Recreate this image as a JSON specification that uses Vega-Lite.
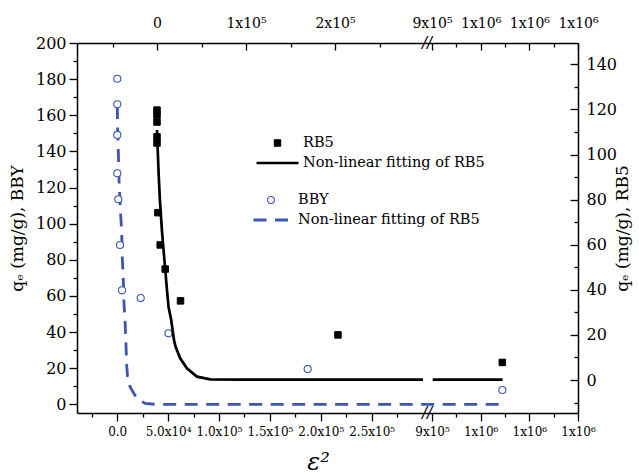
{
  "$schema": "https://vega.github.io/schema/vega-lite/v6.json",
  "width": 501,
  "height": 370,
  "autosize": {"type": "none"},
  "padding": {"left": 77, "top": 43, "right": 61, "bottom": 62},
  "background": "white",
  "config": {"view": {"stroke": null}, "font": "DejaVu Serif"},
  "datasets": {
    "rb5": [
      {"eps2": 0, "qe": 119.7, "series": "RB5"},
      {"eps2": 0, "qe": 117.5, "series": "RB5"},
      {"eps2": 0, "qe": 114.4, "series": "RB5"},
      {"eps2": 0, "qe": 107.8, "series": "RB5"},
      {"eps2": 0, "qe": 105.1, "series": "RB5"},
      {"eps2": 1010, "qe": 74.2, "series": "RB5"},
      {"eps2": 3600, "qe": 59.9, "series": "RB5"},
      {"eps2": 9210, "qe": 49.2, "series": "RB5"},
      {"eps2": 26400, "qe": 35.1, "series": "RB5"},
      {"eps2": 203300, "qe": 20.0, "series": "RB5"},
      {"eps2": 1044500, "qe": 7.8, "series": "RB5"}
    ],
    "rb5fit": [
      {"eps2": 0, "qe": 110.9, "series": "fitRB5", "seg": "a"},
      {"eps2": 790, "qe": 102.0, "series": "fitRB5", "seg": "a"},
      {"eps2": 1910, "qe": 90.9, "series": "fitRB5", "seg": "a"},
      {"eps2": 3260, "qe": 79.8, "series": "fitRB5", "seg": "a"},
      {"eps2": 5510, "qe": 66.5, "series": "fitRB5", "seg": "a"},
      {"eps2": 6850, "qe": 59.9, "series": "fitRB5", "seg": "a"},
      {"eps2": 9210, "qe": 49.2, "series": "fitRB5", "seg": "a"},
      {"eps2": 11240, "qe": 39.9, "series": "fitRB5", "seg": "a"},
      {"eps2": 12920, "qe": 32.5, "series": "fitRB5", "seg": "a"},
      {"eps2": 15960, "qe": 26.6, "series": "fitRB5", "seg": "a"},
      {"eps2": 19100, "qe": 17.7, "series": "fitRB5", "seg": "a"},
      {"eps2": 21010, "qe": 14.6, "series": "fitRB5", "seg": "a"},
      {"eps2": 26070, "qe": 9.6, "series": "fitRB5", "seg": "a"},
      {"eps2": 33600, "qe": 5.2, "series": "fitRB5", "seg": "a"},
      {"eps2": 44830, "qe": 1.5, "series": "fitRB5", "seg": "a"},
      {"eps2": 59780, "qe": 0.3, "series": "fitRB5", "seg": "a"},
      {"eps2": 93480, "qe": 0.2, "series": "fitRB5", "seg": "a"},
      {"eps2": 298800, "qe": 0.2, "series": "fitRB5", "seg": "a"},
      {"eps2": 901400, "qe": 0.2, "series": "fitRB5", "seg": "b"},
      {"eps2": 1045000, "qe": 0.2, "series": "fitRB5", "seg": "b"}
    ],
    "bby": [
      {"eps2": 100, "qe": 180.2, "series": "BBY"},
      {"eps2": 100, "qe": 166.1, "series": "BBY"},
      {"eps2": 100, "qe": 149.1, "series": "BBY"},
      {"eps2": 100, "qe": 127.9, "series": "BBY"},
      {"eps2": 1080, "qe": 113.5, "series": "BBY"},
      {"eps2": 2750, "qe": 88.2, "series": "BBY"},
      {"eps2": 4720, "qe": 63.1, "series": "BBY"},
      {"eps2": 23080, "qe": 58.8, "series": "BBY"},
      {"eps2": 50390, "qe": 39.3, "series": "BBY"},
      {"eps2": 187100, "qe": 19.5, "series": "BBY"},
      {"eps2": 1044500, "qe": 7.9, "series": "BBY"}
    ],
    "bbyfit": [
      {"eps2": 100, "qe": 165.1, "series": "fitBBY"},
      {"eps2": 490, "qe": 151.8, "series": "fitBBY"},
      {"eps2": 1080, "qe": 140.8, "series": "fitBBY"},
      {"eps2": 1960, "qe": 121.4, "series": "fitBBY"},
      {"eps2": 3240, "qe": 106.4, "series": "fitBBY"},
      {"eps2": 4420, "qe": 95.4, "series": "fitBBY"},
      {"eps2": 5010, "qe": 81.0, "series": "fitBBY"},
      {"eps2": 5990, "qe": 68.8, "series": "fitBBY"},
      {"eps2": 6480, "qe": 57.7, "series": "fitBBY"},
      {"eps2": 7660, "qe": 46.7, "series": "fitBBY"},
      {"eps2": 8640, "qe": 32.8, "series": "fitBBY"},
      {"eps2": 9330, "qe": 21.8, "series": "fitBBY"},
      {"eps2": 10120, "qe": 15.3, "series": "fitBBY"},
      {"eps2": 12570, "qe": 9.7, "series": "fitBBY"},
      {"eps2": 19150, "qe": 3.3, "series": "fitBBY"},
      {"eps2": 27310, "qe": 0.55, "series": "fitBBY"},
      {"eps2": 37130, "qe": 0, "series": "fitBBY"},
      {"eps2": 1045000, "qe": 0, "series": "fitBBY"}
    ]
  },
  "resolve": {"scale": {"x": "independent", "y": "independent", "stroke": "independent", "strokeWidth": "independent", "fill": "independent", "shape": "independent", "size": "independent", "strokeDash": "independent"}},
  "layer": [
    {
      "encoding": {
        "x": {"field": "eps2", "type": "quantitative",
          "scale": {"type": "linear", "domain": [-39490, 304320, 889700, 1200000], "range": [0, 350, 350, 501], "nice": false, "zero": false},
          "axis": {"orient": "bottom", "values": [0, 50000, 100000, 150000, 200000, 250000, 900000, 1000000, 1100000, 1200000],
            "labelExpr": "datum.value == 0 ? '0.0' : datum.value < 100000 ? format(datum.value/10000,'.1f') + 'x10⁴' : datum.value < 500000 ? format(datum.value/100000,'.1f') + 'x10⁵' : datum.value < 950000 ? '9x10⁵' : '1x10⁶'",
            "ticks": false, "grid": false, "domain": true, "domainColor": "black", "domainWidth": 1.5,
            "labelFont": "DejaVu Serif", "labelFontSize": 12, "labelColor": "black", "labelPadding": 13,
            "labelFlush": false, "labelOverlap": false, "labelBound": false,
            "title": "ε²", "titleFont": "DejaVu Serif", "titleFontSize": 24, "titleFontStyle": "italic", "titleFontWeight": "normal", "titleColor": "black",
            "titleX": 241, "titleY": 56, "titleBaseline": "alphabetic", "titleAlign": "center", "titleAngle": 0}},
        "y": {"field": "qe", "type": "quantitative",
          "scale": {"domain": [-4.82, 200], "nice": false, "zero": false},
          "axis": {"orient": "left", "values": [0, 20, 40, 60, 80, 100, 120, 140, 160, 180, 200],
            "ticks": false, "grid": false, "domain": true, "domainColor": "black", "domainWidth": 1.5,
            "labelFont": "DejaVu Serif", "labelFontSize": 16, "labelColor": "black", "labelPadding": 11,
            "labelOverlap": false, "labelBound": false, "labelFlush": false,
            "title": "qₑ (mg/g), BBY", "titleFont": "DejaVu Serif", "titleFontSize": 17, "titleFontWeight": "normal", "titleColor": "black",
            "titleAngle": 270, "titleX": -55, "titleY": 185, "titleBaseline": "alphabetic", "titleAlign": "center"}},
        "stroke": {"field": "series", "type": "nominal", "scale": {"domain": ["BBY", "fitBBY"], "range": ["#3b56b3", "#3b56b3"]},
          "legend": {"orient": "none", "legendX": 175, "legendY": 147, "title": null, "columns": 1, "clipHeight": 20, "rowPadding": 0, "padding": 0,
            "labelFont": "DejaVu Serif", "labelFontSize": 14.5, "labelColor": "black", "labelOffset": 8, "labelLimit": 400,
            "labelExpr": "datum.label == 'BBY' ? 'BBY' : 'Non-linear fitting of RB5'"}},
        "strokeWidth": {"field": "series", "type": "nominal", "scale": {"domain": ["BBY", "fitBBY"], "range": [1.1, 2.8]},
          "legend": {"orient": "none", "legendX": 175, "legendY": 147, "title": null, "columns": 1, "clipHeight": 20, "rowPadding": 0, "padding": 0,
            "labelFont": "DejaVu Serif", "labelFontSize": 14.5, "labelColor": "black", "labelOffset": 8, "labelLimit": 400,
            "labelExpr": "datum.label == 'BBY' ? 'BBY' : 'Non-linear fitting of RB5'"}}
      },
      "layer": [
        {
          "data": {"name": "bbyfit"},
          "mark": {"type": "line", "strokeCap": "butt"},
          "encoding": {
            "strokeDash": {"field": "series", "type": "nominal", "scale": {"domain": ["BBY", "fitBBY"], "range": [[1, 0], [13, 8.5]]},
              "legend": {"orient": "none", "legendX": 175, "legendY": 147, "title": null, "columns": 1, "clipHeight": 20, "rowPadding": 0, "padding": 0,
                "labelFont": "DejaVu Serif", "labelFontSize": 14.5, "labelColor": "black", "labelOffset": 8, "labelLimit": 400,
                "labelExpr": "datum.label == 'BBY' ? 'BBY' : 'Non-linear fitting of RB5'"}}
          }
        },
        {
          "data": {"name": "bby"},
          "mark": {"type": "point", "opacity": 1},
          "encoding": {
            "shape": {"field": "series", "type": "nominal", "scale": {"domain": ["BBY", "fitBBY"], "range": ["circle", "stroke"]},
              "legend": {"orient": "none", "legendX": 175, "legendY": 147, "title": null, "columns": 1, "clipHeight": 20, "rowPadding": 0, "padding": 0,
                "labelFont": "DejaVu Serif", "labelFontSize": 14.5, "labelColor": "black", "labelOffset": 8, "labelLimit": 400,
                "labelExpr": "datum.label == 'BBY' ? 'BBY' : 'Non-linear fitting of RB5'"}},
            "fill": {"field": "series", "type": "nominal", "scale": {"domain": ["BBY", "fitBBY"], "range": ["white", "transparent"]},
              "legend": {"orient": "none", "legendX": 175, "legendY": 147, "title": null, "columns": 1, "clipHeight": 20, "rowPadding": 0, "padding": 0,
                "labelFont": "DejaVu Serif", "labelFontSize": 14.5, "labelColor": "black", "labelOffset": 8, "labelLimit": 400,
                "labelExpr": "datum.label == 'BBY' ? 'BBY' : 'Non-linear fitting of RB5'"}},
            "size": {"field": "series", "type": "nominal", "scale": {"domain": ["BBY", "fitBBY"], "range": [50, 1225]},
              "legend": {"orient": "none", "legendX": 175, "legendY": 147, "title": null, "columns": 1, "clipHeight": 20, "rowPadding": 0, "padding": 0,
                "labelFont": "DejaVu Serif", "labelFontSize": 14.5, "labelColor": "black", "labelOffset": 8, "labelLimit": 400,
                "labelExpr": "datum.label == 'BBY' ? 'BBY' : 'Non-linear fitting of RB5'"}}
          }
        }
      ]
    },
    {
      "encoding": {
        "x": {"field": "eps2", "type": "quantitative",
          "scale": {"type": "linear", "domain": [-89890, 303370, 889700, 1200000], "range": [0, 350, 350, 501], "nice": false, "zero": false},
          "axis": {"orient": "top", "values": [0, 100000, 200000, 900000, 1000000, 1100000, 1200000],
            "labelExpr": "datum.value == 0 ? '0' : datum.value < 500000 ? format(datum.value/100000,'d') + 'x10⁵' : datum.value < 950000 ? '9x10⁵' : '1x10⁶'",
            "ticks": false, "grid": false, "domain": true, "domainColor": "black", "domainWidth": 1.5,
            "labelFont": "DejaVu Serif", "labelFontSize": 14, "labelColor": "black", "labelPadding": 13,
            "labelFlush": false, "labelOverlap": false, "labelBound": false, "title": null}},
        "y": {"field": "qe", "type": "quantitative",
          "scale": {"domain": [-14.63, 149.45], "nice": false, "zero": false},
          "axis": {"orient": "right", "values": [0, 20, 40, 60, 80, 100, 120, 140],
            "ticks": false, "grid": false, "domain": true, "domainColor": "black", "domainWidth": 1.5,
            "labelFont": "DejaVu Serif", "labelFontSize": 16, "labelColor": "black", "labelPadding": 8,
            "labelOverlap": false, "labelBound": false, "labelFlush": false,
            "title": "qₑ (mg/g), RB5", "titleFont": "DejaVu Serif", "titleFontSize": 17, "titleFontWeight": "normal", "titleColor": "black",
            "titleAngle": 270, "titleX": 49, "titleY": 185, "titleBaseline": "alphabetic", "titleAlign": "center"}},
        "stroke": {"field": "series", "type": "nominal", "scale": {"domain": ["RB5", "fitRB5"], "range": ["black", "black"]},
          "legend": {"orient": "none", "legendX": 178, "legendY": 90, "title": null, "columns": 1, "clipHeight": 20, "rowPadding": 0, "padding": 0,
            "labelFont": "DejaVu Serif", "labelFontSize": 14.5, "labelColor": "black", "labelOffset": 3, "labelLimit": 400,
            "labelExpr": "datum.label == 'RB5' ? 'RB5' : 'Non-linear fitting of RB5'"}},
        "strokeWidth": {"field": "series", "type": "nominal", "scale": {"domain": ["RB5", "fitRB5"], "range": [1, 2.7]},
          "legend": {"orient": "none", "legendX": 178, "legendY": 90, "title": null, "columns": 1, "clipHeight": 20, "rowPadding": 0, "padding": 0,
            "labelFont": "DejaVu Serif", "labelFontSize": 14.5, "labelColor": "black", "labelOffset": 3, "labelLimit": 400,
            "labelExpr": "datum.label == 'RB5' ? 'RB5' : 'Non-linear fitting of RB5'"}}
      },
      "layer": [
        {
          "data": {"name": "rb5fit"},
          "mark": {"type": "line", "strokeCap": "butt"},
          "encoding": {"detail": {"field": "seg", "type": "nominal"}}
        },
        {
          "data": {"name": "rb5"},
          "mark": {"type": "point", "opacity": 1},
          "encoding": {
            "shape": {"field": "series", "type": "nominal", "scale": {"domain": ["RB5", "fitRB5"], "range": ["square", "stroke"]},
              "legend": {"orient": "none", "legendX": 178, "legendY": 90, "title": null, "columns": 1, "clipHeight": 20, "rowPadding": 0, "padding": 0,
                "labelFont": "DejaVu Serif", "labelFontSize": 14.5, "labelColor": "black", "labelOffset": 3, "labelLimit": 400,
                "labelExpr": "datum.label == 'RB5' ? 'RB5' : 'Non-linear fitting of RB5'"}},
            "fill": {"field": "series", "type": "nominal", "scale": {"domain": ["RB5", "fitRB5"], "range": ["black", "transparent"]},
              "legend": {"orient": "none", "legendX": 178, "legendY": 90, "title": null, "columns": 1, "clipHeight": 20, "rowPadding": 0, "padding": 0,
                "labelFont": "DejaVu Serif", "labelFontSize": 14.5, "labelColor": "black", "labelOffset": 3, "labelLimit": 400,
                "labelExpr": "datum.label == 'RB5' ? 'RB5' : 'Non-linear fitting of RB5'"}},
            "size": {"field": "series", "type": "nominal", "scale": {"domain": ["RB5", "fitRB5"], "range": [42, 1764]},
              "legend": {"orient": "none", "legendX": 178, "legendY": 90, "title": null, "columns": 1, "clipHeight": 20, "rowPadding": 0, "padding": 0,
                "labelFont": "DejaVu Serif", "labelFontSize": 14.5, "labelColor": "black", "labelOffset": 3, "labelLimit": 400,
                "labelExpr": "datum.label == 'RB5' ? 'RB5' : 'Non-linear fitting of RB5'"}}
          }
        }
      ]
    },
    {
      "data": {"values": [{}]},
      "mark": {"type": "point", "opacity": 0},
      "encoding": {
        "x": {"datum": 0, "type": "quantitative",
          "scale": {"type": "linear", "domain": [-89890, 303370, 889700, 1200000], "range": [0, 350, 350, 501], "nice": false, "zero": false},
          "axis": {"orient": "top", "values": [0, 100000, 200000, 900000, 1000000, 1100000, 1200000], "labels": false, "domain": false, "grid": false, "ticks": true, "tickSize": 7, "offset": -7, "tickColor": "black", "tickWidth": 1.3, "title": null}},
        "y": {"datum": 0, "type": "quantitative",
          "scale": {"domain": [-4.82, 200], "nice": false, "zero": false},
          "axis": {"orient": "left", "values": [0, 20, 40, 60, 80, 100, 120, 140, 160, 180, 200], "labels": false, "domain": false, "grid": false, "ticks": true, "tickSize": 8, "tickColor": "black", "tickWidth": 1.3, "title": null}}
      }
    },
    {
      "data": {"values": [{}]},
      "mark": {"type": "point", "opacity": 0},
      "encoding": {
        "x": {"datum": 0, "type": "quantitative",
          "scale": {"type": "linear", "domain": [-89890, 303370, 889700, 1200000], "range": [0, 350, 350, 501], "nice": false, "zero": false},
          "axis": {"orient": "top", "values": [-50000, 50000, 150000, 250000, 950000, 1050000, 1150000], "labels": false, "domain": false, "grid": false, "ticks": true, "tickSize": 4, "offset": -4, "tickColor": "black", "tickWidth": 1.3, "title": null}},
        "y": {"datum": 0, "type": "quantitative",
          "scale": {"domain": [-4.82, 200], "nice": false, "zero": false},
          "axis": {"orient": "left", "values": [10, 30, 50, 70, 90, 110, 130, 150, 170, 190], "labels": false, "domain": false, "grid": false, "ticks": true, "tickSize": 4, "tickColor": "black", "tickWidth": 1.3, "title": null}}
      }
    },
    {
      "data": {"values": [{}]},
      "mark": {"type": "point", "opacity": 0},
      "encoding": {
        "x": {"datum": 0, "type": "quantitative",
          "scale": {"type": "linear", "domain": [-39490, 304320, 889700, 1200000], "range": [0, 350, 350, 501], "nice": false, "zero": false},
          "axis": {"orient": "bottom", "values": [0, 50000, 100000, 150000, 200000, 250000, 900000, 1000000, 1100000, 1200000], "labels": false, "domain": false, "grid": false, "ticks": true, "tickSize": 8, "tickColor": "black", "tickWidth": 1.3, "title": null}},
        "y": {"datum": 0, "type": "quantitative",
          "scale": {"domain": [-14.63, 149.45], "nice": false, "zero": false},
          "axis": {"orient": "right", "values": [0, 20, 40, 60, 80, 100, 120, 140], "labels": false, "domain": false, "grid": false, "ticks": true, "tickSize": 8, "offset": -8, "tickColor": "black", "tickWidth": 1.3, "title": null}}
      }
    },
    {
      "data": {"values": [{}]},
      "mark": {"type": "point", "opacity": 0},
      "encoding": {
        "x": {"datum": 0, "type": "quantitative",
          "scale": {"type": "linear", "domain": [-39490, 304320, 889700, 1200000], "range": [0, 350, 350, 501], "nice": false, "zero": false},
          "axis": {"orient": "bottom", "values": [-25000, 25000, 75000, 125000, 175000, 225000, 275000, 950000, 1050000, 1150000], "labels": false, "domain": false, "grid": false, "ticks": true, "tickSize": 4, "tickColor": "black", "tickWidth": 1.3, "title": null}},
        "y": {"datum": 0, "type": "quantitative",
          "scale": {"domain": [-14.63, 149.45], "nice": false, "zero": false},
          "axis": {"orient": "right", "values": [-10, 10, 30, 50, 70, 90, 110, 130], "labels": false, "domain": false, "grid": false, "ticks": true, "tickSize": 4, "offset": -4, "tickColor": "black", "tickWidth": 1.3, "title": null}}
      }
    },
    {
      "data": {"values": [{}]},
      "mark": {"type": "text", "text": "//", "font": "DejaVu Sans", "fontSize": 15, "fontStyle": "italic", "align": "center", "baseline": "middle", "color": "black"},
      "encoding": {
        "x": {"datum": 303370, "type": "quantitative",
          "scale": {"type": "linear", "domain": [-89890, 303370, 889700, 1200000], "range": [0, 350, 350, 501], "nice": false, "zero": false}, "axis": null},
        "y": {"datum": 149.45, "type": "quantitative",
          "scale": {"domain": [-14.63, 149.45], "nice": false, "zero": false}, "axis": null}
      }
    },
    {
      "data": {"values": [{}]},
      "mark": {"type": "text", "text": "//", "font": "DejaVu Sans", "fontSize": 15, "fontStyle": "italic", "align": "center", "baseline": "middle", "color": "black"},
      "encoding": {
        "x": {"datum": 304320, "type": "quantitative",
          "scale": {"type": "linear", "domain": [-39490, 304320, 889700, 1200000], "range": [0, 350, 350, 501], "nice": false, "zero": false}, "axis": null},
        "y": {"datum": -4.82, "type": "quantitative",
          "scale": {"domain": [-4.82, 200], "nice": false, "zero": false}, "axis": null}
      }
    }
  ]
}
